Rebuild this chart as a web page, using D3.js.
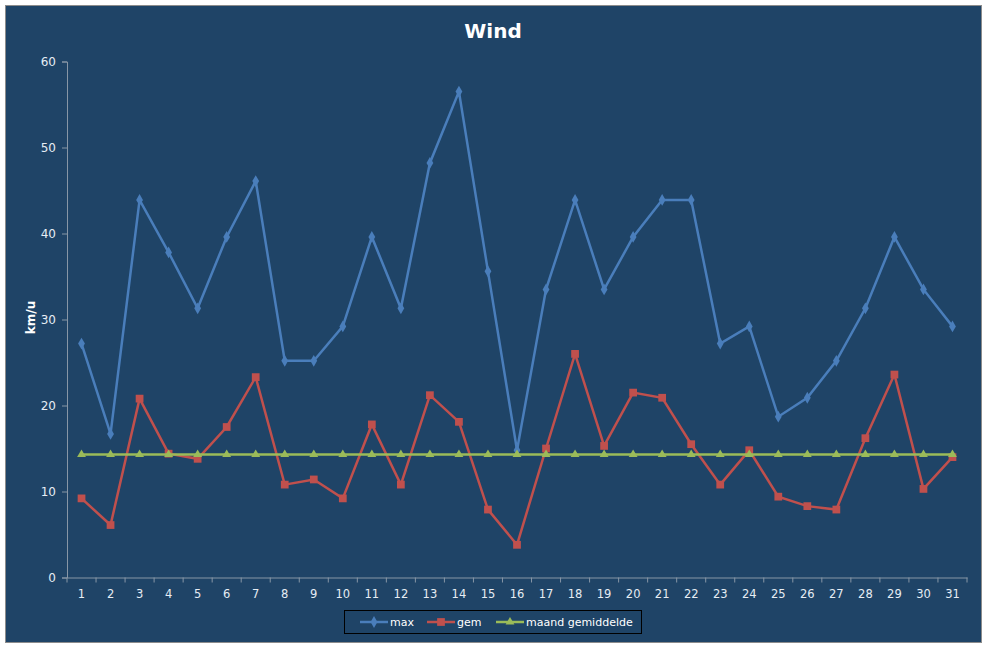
<!DOCTYPE html>
<meta charset="utf-8">
<head>
    <title>Wind</title>
</head>
<script src="https://d3js.org/d3.v7.min.js"></script>
<style>
    body { margin: 0; background: #ffffff; }
    text { font-family: Tahoma, "DejaVu Sans", sans-serif; }
    .tick text { fill: #e6edf4; font-size: 11px; }
    .tick line, .domain { stroke: #8796a6; }
</style>
<div id="viz"></div>
<script>

// daily wind values (km/u)
var days = d3.range(1, 32);
var maxWind = [27.2, 16.7, 43.9, 37.8, 31.3, 39.6, 46.1, 25.2, 25.2, 29.2,
               39.6, 31.3, 48.2, 56.5, 35.6, 14.8, 33.5, 43.9, 33.5, 39.6,
               43.9, 43.9, 27.2, 29.2, 18.7, 20.9, 25.2, 31.3, 39.6, 33.5, 29.2];
var gemWind = [9.2, 6.1, 20.8, 14.4, 13.8, 17.5, 23.3, 10.8, 11.4, 9.2,
               17.8, 10.8, 21.2, 18.1, 7.9, 3.8, 15.0, 26.0, 15.3, 21.5,
               20.9, 15.5, 10.8, 14.8, 9.4, 8.3, 7.9, 16.2, 23.6, 10.3, 14.0];
var maandGem = [14.3, 14.3, 14.3, 14.3, 14.3, 14.3, 14.3, 14.3, 14.3, 14.3,
                14.3, 14.3, 14.3, 14.3, 14.3, 14.3, 14.3, 14.3, 14.3, 14.3,
                14.3, 14.3, 14.3, 14.3, 14.3, 14.3, 14.3, 14.3, 14.3, 14.3, 14.3];
var yTicks = [0, 10, 20, 30, 40, 50, 60];

var series = [
    {name: 'max', values: maxWind, color: '#4a7ebb', marker: d3.symbolDiamond, size: 40},
    {name: 'gem', values: gemWind, color: '#c0504d', marker: d3.symbolSquare, size: 60},
    {name: 'maand gemiddelde', values: maandGem, color: '#9bbb59', marker: d3.symbolTriangle, size: 34}
];

var W = 987, H = 648;
var margin = {top: 61.5, right: 20, bottom: 70.5, left: 67};
var width = 967 - margin.left;
var height = 577.5 - margin.top;

var root = d3.select('#viz')
    .append('svg')
        .attr('width', W)
        .attr('height', H);

// chart background + frame
root.append('rect')
    .attr('x', 5.5).attr('y', 5.5)
    .attr('width', 976).attr('height', 637)
    .attr('fill', '#1f4467')
    .attr('stroke', '#8c8c8c')
    .attr('stroke-width', 1);

root.append('text')
    .attr('x', 493)
    .attr('y', 38)
    .attr('text-anchor', 'middle')
    .style('font-size', '20px')
    .style('font-weight', 'bold')
    .style('fill', '#ffffff')
    .text('Wind');

var svg = root.append('g')
    .attr('transform', 'translate(' + margin.left + ',' + margin.top + ')');

var x = d3.scaleBand()
    .domain(days)
    .range([0, width]);

var y = d3.scaleLinear()
    .domain([0, 60])
    .range([height, 0]);

// y axis
var yAxis = svg.append('g')
    .call(d3.axisLeft(y).tickValues(yTicks).tickSize(5).tickPadding(6));
yAxis.selectAll('.tick text').style('font-size', '12px');

// x axis with ticks on band edges
var xAxis = svg.append('g')
    .attr('transform', 'translate(0,' + height + ')')
    .call(d3.axisBottom(x).tickSize(0).tickPadding(12));
xAxis.selectAll('.tick text').style('font-size', '11.5px');
xAxis.selectAll('.edge')
    .data(days.concat([32]))
    .enter()
    .append('line')
    .attr('x1', function(d) { return d <= 31 ? x(d) : width; })
    .attr('x2', function(d) { return d <= 31 ? x(d) : width; })
    .attr('y1', 0)
    .attr('y2', 5)
    .attr('stroke', '#8796a6');

svg.append('text')
    .attr('transform', 'translate(-32,' + (height / 2 - 2) + ')rotate(-90)')
    .attr('text-anchor', 'middle')
    .style('font-size', '12px')
    .style('font-weight', 'bold')
    .style('fill', '#ffffff')
    .text('km/u');

var cx = function(i) { return x(days[i]) + x.bandwidth() / 2; };

var line = d3.line()
    .x(function(d, i) { return cx(i); })
    .y(function(d) { return y(d); });

series.forEach(function(s) {
    svg.append('path')
        .datum(s.values)
        .attr('fill', 'none')
        .attr('stroke', s.color)
        .attr('stroke-width', 2.5)
        .attr('d', line);

    svg.append('g')
        .selectAll('path')
        .data(s.values)
        .enter()
        .append('path')
        .attr('transform', function(d, i) { return 'translate(' + cx(i) + ',' + y(d) + ')'; })
        .attr('d', d3.symbol().type(s.marker).size(s.size))
        .attr('fill', s.color);
});

// legend
var legend = root.append('g');
legend.append('rect')
    .attr('x', 344.5).attr('y', 610.5)
    .attr('width', 297).attr('height', 23)
    .attr('fill', 'none')
    .attr('stroke', '#000000')
    .attr('stroke-width', 1);

var legendX = [360, 427, 496];
series.forEach(function(s, i) {
    var g = legend.append('g')
        .attr('transform', 'translate(' + legendX[i] + ',622)');
    g.append('line')
        .attr('x1', 0).attr('x2', 28)
        .attr('stroke', s.color)
        .attr('stroke-width', 2.5);
    g.append('path')
        .attr('transform', 'translate(14,0)')
        .attr('d', d3.symbol().type(s.marker).size(s.size))
        .attr('fill', s.color);
    g.append('text')
        .attr('x', 30)
        .attr('y', 4)
        .style('font-size', '11px')
        .style('fill', '#ffffff')
        .text(s.name);
});

</script>
